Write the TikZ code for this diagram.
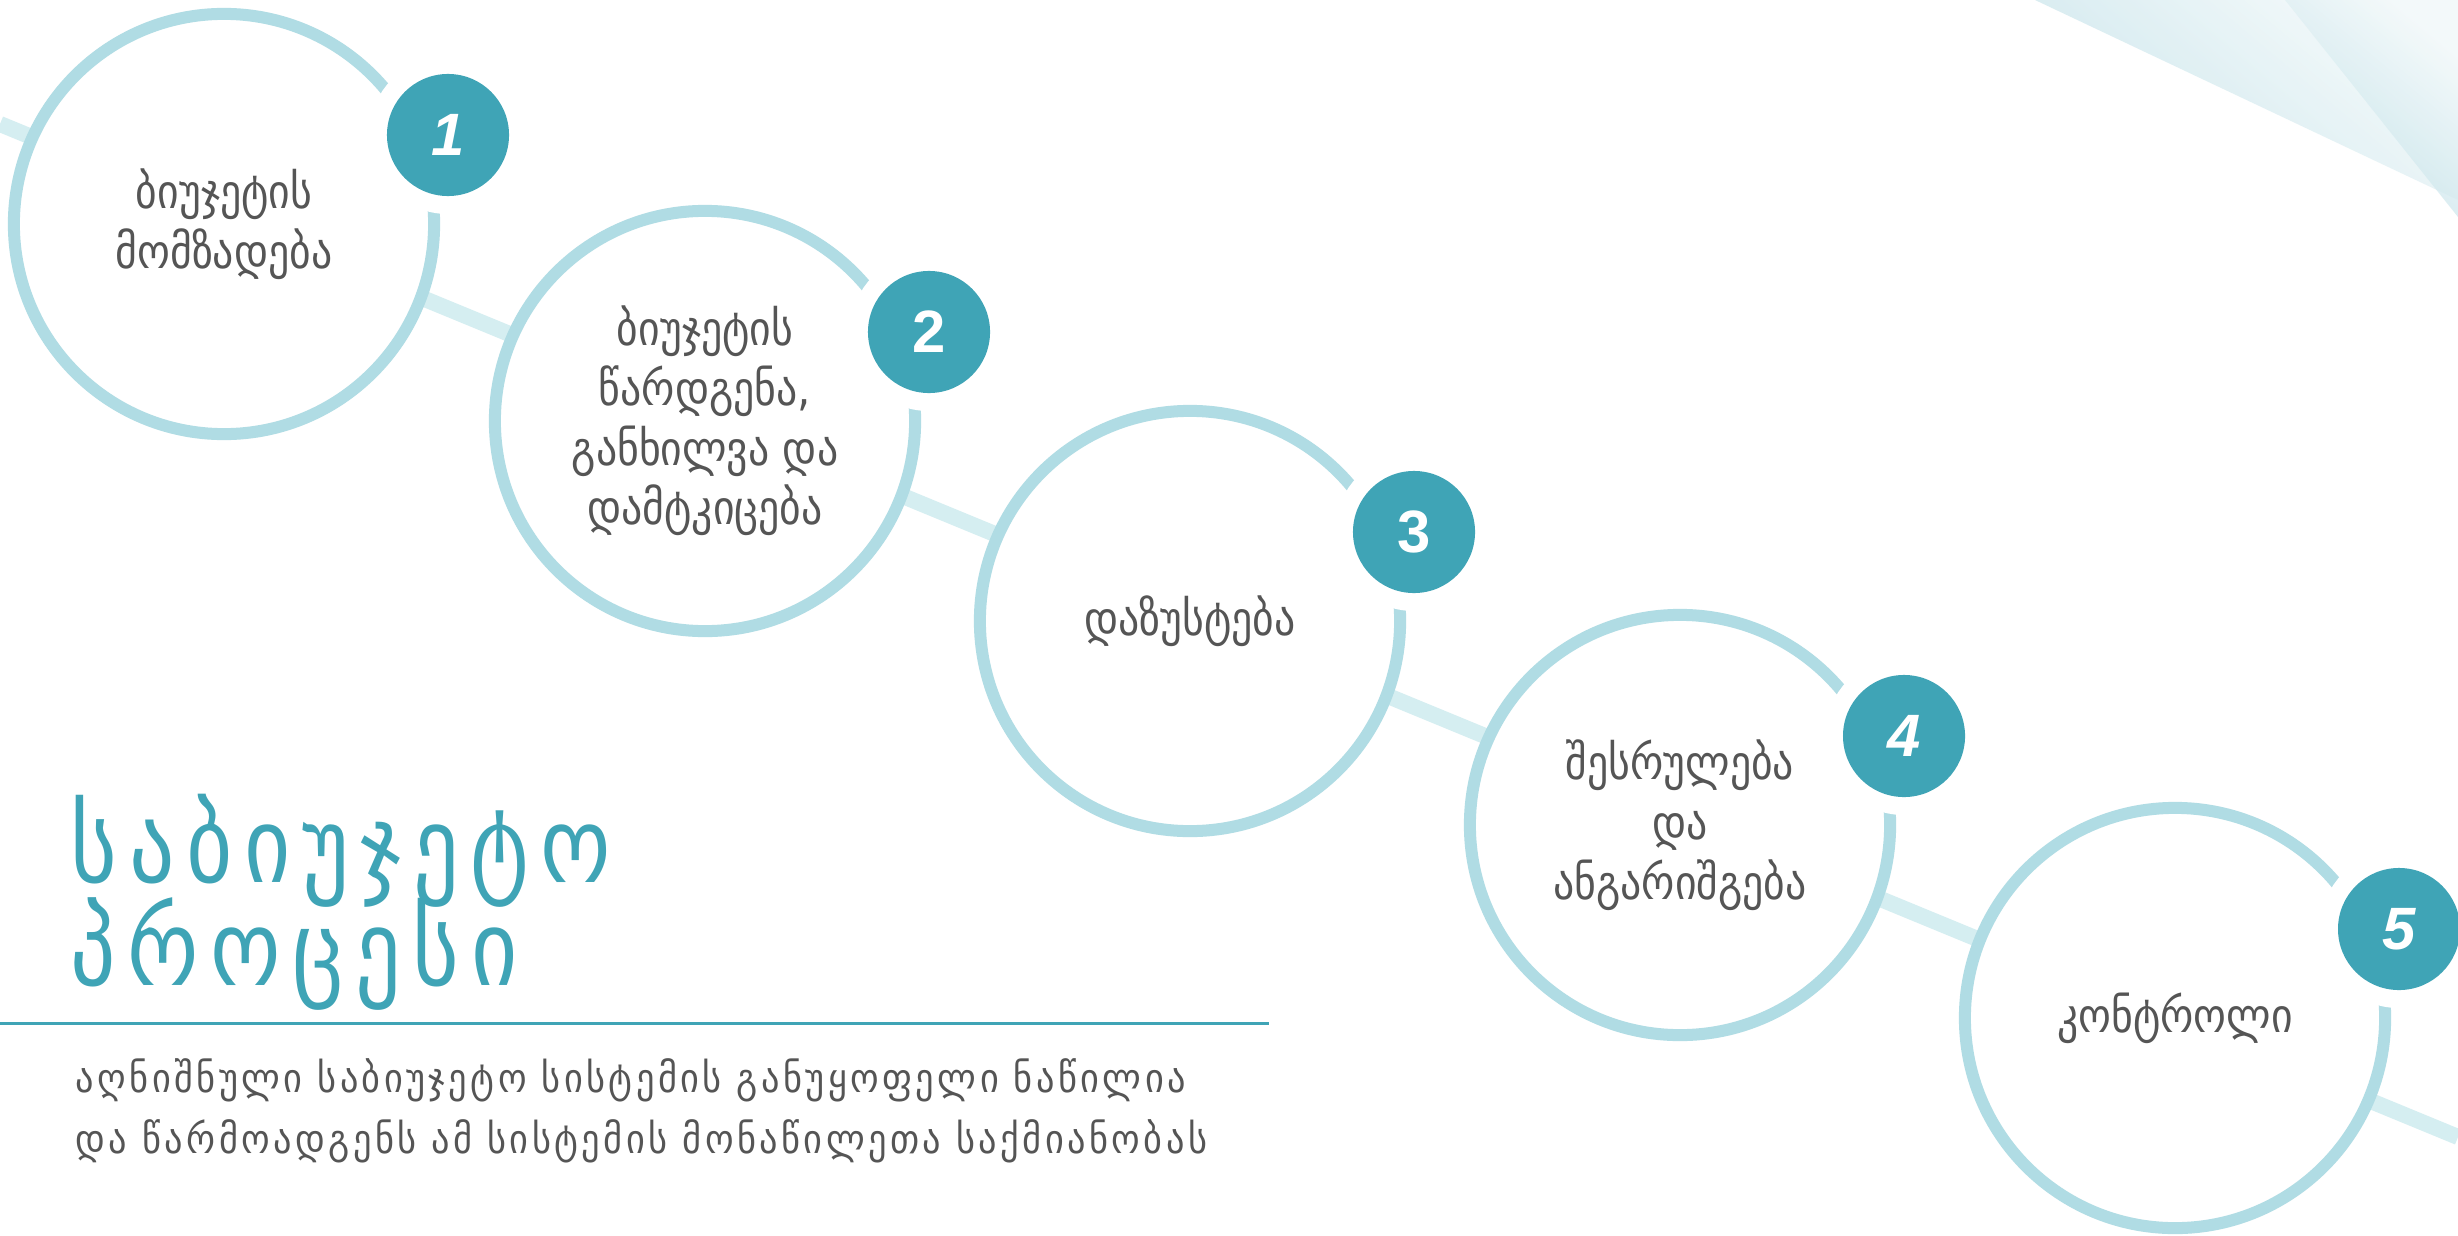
\documentclass[tikz,border=0pt]{standalone}
\usepackage{fontspec}
\newfontfamily\geofont[FakeStretch=0.88]{DejaVu Sans}
\newfontfamily\geotitle[FakeStretch=0.85, LetterSpace=11]{DejaVu Sans}
\newfontfamily\geonarrow[FakeStretch=0.9, LetterSpace=8.5]{DejaVu Sans}
\newfontfamily\numfont{Liberation Sans}
\usetikzlibrary{positioning}
\definecolor{badgeteal}{HTML}{3FA4B6}
\definecolor{ringblue}{HTML}{B0DCE4}
\definecolor{pathblue}{HTML}{D5EEF1}
\definecolor{textgray}{HTML}{555555}
\definecolor{cornerdark}{HTML}{BDDFE7}
\definecolor{cornerlight}{HTML}{F3F9FA}
\tikzset{
%%%%%%%%%%  Node styles
stepcircle/.style={circle, draw=ringblue, line width=0.12cm, fill=white,
                   minimum size=4.2cm, inner sep=0pt, align=center,
                   text=textgray, font=\geofont\fontsize{13.5}{17}\selectfont},
badge/.style={circle, fill=badgeteal, minimum size=1.22cm, inner sep=0pt,
              text=white, font=\numfont\bfseries\fontsize{17}{20}\selectfont,
              preaction={draw=white, line width=0.36cm}},
titletext/.style={anchor=base west, inner sep=0pt, text=badgeteal,
                  font=\geotitle\fontsize{30}{36}\selectfont},
bodytext/.style={anchor=base west, inner sep=0pt, text=textgray,
                 font=\geonarrow\fontsize{11.5}{14}\selectfont},
%%%% line styles
pathline/.style={draw=pathblue, line width=0.16cm},
rule/.style={draw=badgeteal, line width=0.03cm},
corner/.style={opacity=0.75, top color=cornerlight, bottom color=cornerdark,
               shading angle=-40}
}

\begin{document}
\begin{tikzpicture}[x=0.01cm, y=0.01cm]
\useasboundingbox (0,0) rectangle (2458,1235);
\fill[white] (0,0) rectangle (2458,1235);
\clip (0,0) rectangle (2458,1235);
%% corner triangles
\shade[corner] (2035,1235) -- (2458,1235) -- (2458,1035) -- cycle;
\shade[corner] (2285,1235) -- (2458,1235) -- (2458,1018) -- cycle;
%% diagonal path behind the steps
\coordinate (pathW) at (0,1111);
\coordinate (pathE) at (2458,98);
\draw[pathline] (pathW) -- (pathE);
%% step circles
\node[stepcircle] (c1) at (224,1011) {ბიუჯეტის\\მომზადება};
\node[stepcircle] (c2) at (705,814) {ბიუჯეტის\\წარდგენა,\\განხილვა და\\დამტკიცება};
\node[stepcircle] (c3) at (1190,614) {დაზუსტება};
\node[stepcircle] (c4) at (1680,410) {შესრულება\\და\\ანგარიშგება};
\node[stepcircle] (c5) at (2175,217) {კონტროლი};
%% number badges
\node[badge] (b1) at ([shift={(224,89)}]c1.center) {\itshape 1};
\node[badge] (b2) at ([shift={(224,89)}]c2.center) {2};
\node[badge] (b3) at ([shift={(224,89)}]c3.center) {3};
\node[badge] (b4) at ([shift={(224,89)}]c4.center) {\itshape 4};
\node[badge] (b5) at ([shift={(224,89)}]c5.center) {\itshape 5};
%% title and description
\node[titletext] (title1) at (70,353) {საბიუჯეტო};
\node[titletext] (title2) at (70,250) {პროცესი};
\coordinate (ruleW) at (0,212);
\coordinate (ruleE) at (1269,212);
\draw[rule] (ruleW) -- (ruleE);
\node[bodytext] (desc1) at (75,143) {აღნიშნული საბიუჯეტო სისტემის განუყოფელი ნაწილია};
\node[bodytext] (desc2) at (75,82) {და წარმოადგენს ამ სისტემის მონაწილეთა საქმიანობას};
\end{tikzpicture}
\end{document}
